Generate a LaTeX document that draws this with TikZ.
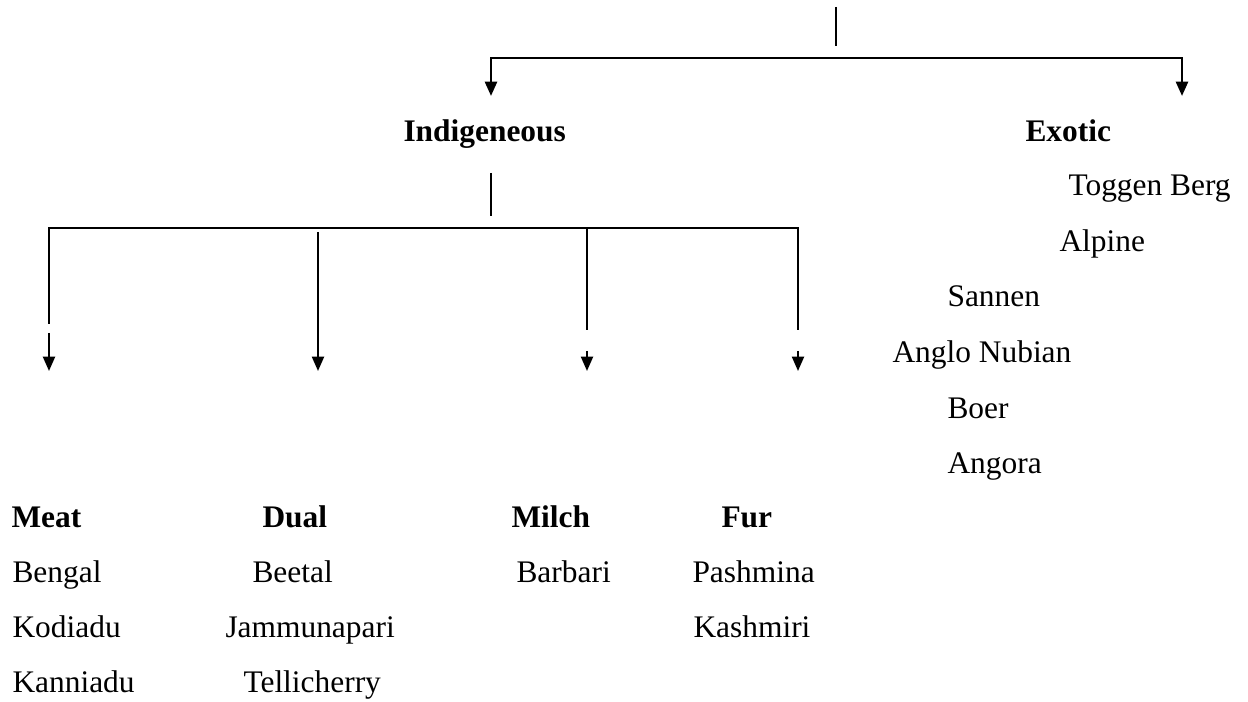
\documentclass[tikz,border=0pt]{standalone}
\usepackage{fontspec}
\setmainfont{Liberation Serif}
\usetikzlibrary{arrows.meta}

\newcommand{\groupnode}[3]{\node[group] (#1) at (#2) {#3};}
\newcommand{\breednode}[3]{\node[breed] (#1) at (#2) {#3};}

\tikzset{
  breed/.style={anchor=base west, inner sep=0pt, font=\fontsize{12pt}{14pt}\selectfont},
  group/.style={breed, font=\fontsize{12pt}{14pt}\selectfont\bfseries},
  stem/.style={line width=0.7pt},
  bar/.style={line width=1pt},
  headtip/.tip={Triangle[length=5.5pt,width=4.6pt]},
  drop/.style={line width=0.8pt, -headtip},
}

\begin{document}
\begin{tikzpicture}[x=0.382pt,y=-0.382pt]
  \useasboundingbox (0,0) rectangle (1248,702);

  % top split
  \coordinate (root-a) at (836,7);
  \coordinate (root-b) at (836,46);
  \coordinate (ind-tip) at (491,96);
  \coordinate (exo-tip) at (1182,96);
  \draw[stem] (root-a) -- (root-b);
  \draw[bar,headtip-headtip] (ind-tip) -- ++(0,-38) -| (exo-tip);

  \groupnode{indig}{403,142}{Indigeneous}
  \groupnode{exotic}{1025,142}{Exotic}

  % indigeneous split
  \coordinate (ind-a) at (491,173);
  \coordinate (ind-b) at (491,216);
  \draw[stem] (ind-a) -- (ind-b);

  \coordinate (meat-end) at (49,324);
  \coordinate (milch-top) at (587,228);
  \coordinate (milch-end) at (587,330);
  \coordinate (fur-end) at (798,330);
  \draw[bar] (meat-end) |- (milch-top) -| (fur-end);
  \draw[stem] (milch-top) -- (milch-end);

  \coordinate (meat-s) at (49,333);
  \coordinate (meat-tip) at (49,371);
  \draw[drop] (meat-s) -- (meat-tip);
  \coordinate (dual-s) at (318,232);
  \coordinate (dual-tip) at (318,371);
  \draw[drop] (dual-s) -- (dual-tip);
  \foreach \x/\n in {587/milch,798/fur}{
    \coordinate (\n-s) at (\x,351);
    \coordinate (\n-tip) at (\x,371);
    \draw[drop] (\n-s) -- (\n-tip);
  }

  % exotic breeds
  \breednode{tog}{1068,196}{Toggen Berg}
  \breednode{alp}{1059,252}{Alpine}
  \breednode{san}{947,307}{Sannen}
  \breednode{ang}{892,363}{Anglo Nubian}
  \breednode{boe}{947,419}{Boer}
  \breednode{ango}{947,474}{Angora}

  % indigeneous breeds
  \groupnode{meat}{11,528}{Meat}
  \groupnode{dual}{262,528}{Dual}
  \groupnode{milch}{511,528}{Milch}
  \groupnode{fur}{721,528}{Fur}

  \breednode{beng}{12,583}{Bengal}
  \breednode{kodi}{12,638}{Kodiadu}
  \breednode{kann}{12,693}{Kanniadu}
  \breednode{beet}{252,583}{Beetal}
  \breednode{jamm}{225,638}{Jammunapari}
  \breednode{tell}{243,693}{Tellicherry}
  \breednode{barb}{516,583}{Barbari}
  \breednode{pash}{692,583}{Pashmina}
  \breednode{kash}{693,638}{Kashmiri}

\end{tikzpicture}
\end{document}
